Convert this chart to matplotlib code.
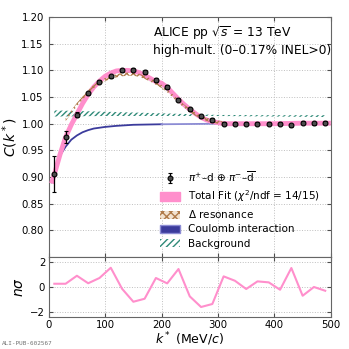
import numpy as np
import matplotlib
matplotlib.use('Agg')
import matplotlib.pyplot as plt
from matplotlib.patches import Patch

# Data points (pi+ d + pi- dbar correlation)
k_data = [10, 30, 50, 70, 90, 110, 130, 150, 170, 190, 210, 230, 250,
          270, 290, 310, 330, 350, 370, 390, 410, 430, 450, 470, 490]
c_data = [0.905, 0.975, 1.017, 1.057, 1.079, 1.089, 1.100, 1.101, 1.097,
          1.082, 1.069, 1.045, 1.027, 1.014, 1.007, 1.000, 1.000, 1.000,
          1.000, 1.000, 1.000, 0.997, 1.002, 1.001, 1.002]
c_err = [0.034, 0.011, 0.005, 0.003, 0.003, 0.003, 0.003, 0.003, 0.003,
         0.003, 0.003, 0.003, 0.003, 0.003, 0.003, 0.003, 0.003, 0.003,
         0.003, 0.003, 0.003, 0.003, 0.003, 0.003, 0.003]

# Total fit
k_fit = [5, 10, 20, 30, 40, 50, 60, 70, 80, 90, 100, 110, 120, 130, 140,
         150, 160, 170, 180, 190, 200, 210, 220, 230, 240, 250, 260, 270,
         280, 290, 300, 310, 350, 400, 450, 500]
c_fit = [0.888, 0.905, 0.942, 0.975, 0.998, 1.018, 1.038, 1.055, 1.069,
         1.080, 1.089, 1.095, 1.099, 1.100, 1.100, 1.099, 1.096, 1.091,
         1.085, 1.079, 1.076, 1.068, 1.057, 1.046, 1.036, 1.027, 1.019,
         1.012, 1.007, 1.004, 1.002, 1.000, 1.000, 1.000, 1.001, 1.001]

# Delta resonance
k_delta = [30, 40, 50, 60, 70, 80, 90, 100, 110, 120, 130, 140, 150, 160,
           170, 180, 190, 200, 210, 220, 230, 240, 250, 260, 270, 280, 290,
           300, 310]
c_delta = [1.008, 1.022, 1.036, 1.048, 1.060, 1.070, 1.077, 1.083, 1.087,
           1.090, 1.092, 1.093, 1.093, 1.091, 1.087, 1.082, 1.076, 1.070,
           1.062, 1.052, 1.042, 1.033, 1.025, 1.018, 1.012, 1.008, 1.005,
           1.003, 1.001]

# Coulomb interaction
k_coul = [5, 10, 20, 30, 40, 50, 60, 70, 80, 100, 120, 150, 200, 250, 300]
c_coul = [0.890, 0.907, 0.940, 0.957, 0.970, 0.978, 0.984, 0.988, 0.991,
          0.994, 0.996, 0.998, 0.999, 0.9995, 1.000]

# Background band
k_bkg = [10, 100, 200, 300, 400, 490]
bkg_lo = [1.0135, 1.0145, 1.0145, 1.0145, 1.0135, 1.0125]
bkg_hi = [1.0250, 1.0225, 1.0195, 1.0165, 1.0160, 1.0160]

# Deviation
nsig = [0.26, 0.26, 0.90, 0.30, 0.72, 1.54, -0.14, -1.18, -0.94, 0.72, 0.29,
        1.44, -0.75, -1.60, -1.36, 0.85, 0.50, -0.16, 0.45, 0.37, -0.22,
        1.52, -0.70, 0.00, -0.30]

pink = '#ff8fcc'
brown = '#b07a4a'
blue = '#3b3b9c'
teal = '#2f8a78'

plt.rcParams['hatch.linewidth'] = 1.0
plt.rcParams['axes.edgecolor'] = '0.4'

fig = plt.figure(figsize=(3.49, 3.49), dpi=100)
ax = fig.add_axes([0.1395, 0.2636, 0.8085, 0.6874])
ax2 = fig.add_axes([0.1395, 0.0917, 0.8085, 0.1719], sharex=ax)

# Background
ax.fill_between(k_bkg, bkg_lo, bkg_hi, facecolor='none', edgecolor=teal,
                hatch='//////', lw=0, zorder=2)
# Coulomb
kc = np.array(k_coul)
cc = np.array(c_coul)
ax.plot(kc[kc <= 200], cc[kc <= 200], color=blue, lw=1.3, zorder=3)
ax.plot(kc[kc >= 200], cc[kc >= 200], color='#8c8cd4', lw=1.3, zorder=3)
# Total fit
ax.plot(k_fit, c_fit, color=pink, lw=3.5, zorder=4, solid_capstyle='butt')
# Delta resonance
ax.fill_between(k_delta, np.array(c_delta) - 0.003, np.array(c_delta) + 0.003,
                facecolor='none', edgecolor=brown, hatch='xxxxx', lw=0,
                zorder=5)
# Data
eb = ax.errorbar(k_data, c_data, yerr=c_err, fmt='o', ms=3.5, mfc='0.3',
                 mec='k', mew=0.8, ecolor='k', elinewidth=0.9, capsize=1.5,
                 zorder=6)

ax.set_xlim(0, 500)
ax.set_ylim(0.75, 1.20)
ax.set_yticks([0.80, 0.85, 0.90, 0.95, 1.00, 1.05, 1.10, 1.15, 1.20])
ax.set_ylabel(r'$C(k^*)$', fontsize=10, labelpad=1)
ax.grid(True, ls=':', color='0.75', lw=0.7)
ax.tick_params(direction='in', top=True, right=True, labelsize=7.3,
               labelbottom=False, length=3, color='0.3')

ax.text(0.371, 0.932, r'ALICE pp $\sqrt{s}$ = 13 TeV', transform=ax.transAxes,
        fontsize=8.8, va='center')
ax.text(0.371, 0.862, 'high-mult. (0\u20130.17% INEL>0)',
        transform=ax.transAxes, fontsize=8.8, va='center')

handles = [
    eb,
    Patch(facecolor=pink, edgecolor=pink),
    Patch(facecolor='#f2e2d0', edgecolor=brown, hatch='xxxx', lw=0),
    Patch(facecolor=blue, edgecolor='#8c8cd4'),
    Patch(facecolor='white', edgecolor=teal, hatch='/////', lw=0),
]
labels = [
    r'$\pi^{+}$–d $\oplus$ $\pi^{-}$–$\overline{\rm d}$',
    r'Total Fit ($\chi^{2}$/ndf = 14/15)',
    r'$\Delta$ resonance',
    'Coulomb interaction',
    'Background',
]
ax.legend(handles, labels, loc='lower right', bbox_to_anchor=(0.962, 0.035),
          frameon=False, fontsize=7.5, handlelength=1.9, handleheight=0.85,
          handletextpad=0.85, labelspacing=0.4, borderaxespad=0,
          borderpad=0)

# Lower panel
ax2.plot(k_data, nsig, color=pink, lw=1.5)
ax2.set_ylim(-2.4, 2.4)
ax2.set_yticks([-2, 0, 2])
ax2.set_xticks([0, 100, 200, 300, 400, 500])
ax2.set_ylabel(r'$n\sigma$', fontsize=10, labelpad=3)
ax2.set_xlabel(r'$k^*$ (MeV/$c$)', fontsize=9, labelpad=0)
ax2.grid(True, ls=':', color='0.75', lw=0.7)
ax2.tick_params(direction='in', top=True, right=True, labelsize=7.3,
                length=3, color='0.3', pad=2.5)

fig.text(0.005, 0.012, 'ALI-PUB-602567', fontsize=4.3, color='0.45',
         family='monospace')

plt.savefig('out.png', dpi=100)
